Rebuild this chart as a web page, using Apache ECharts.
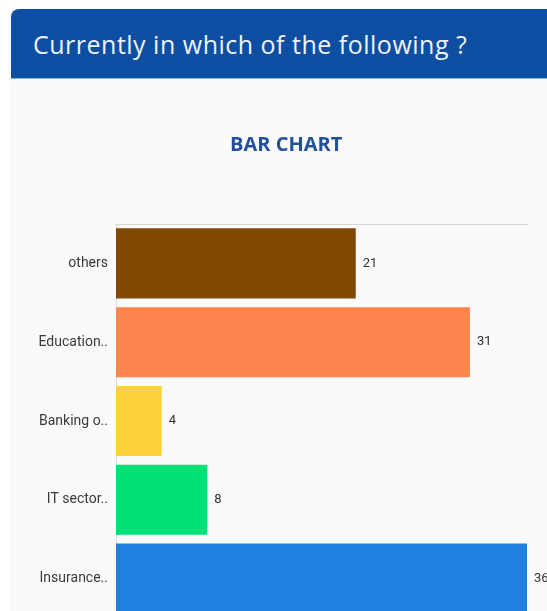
<!DOCTYPE html>
<html>
<head>
<meta charset="utf-8">
<script src="https://cdn.jsdelivr.net/npm/echarts@6/dist/echarts.min.js"></script>
<style>
  html, body { margin: 0; padding: 0; background: #ffffff; overflow: hidden; width: 547px; height: 611px; }
  #card { position: absolute; left: 11px; top: 9px; width: 536px; height: 700px; background: #fafafa; }
  #header {
    position: absolute; left: 11px; top: 9px; width: 536px; height: 70px;
    background: #0b4ea2; border-top-left-radius: 8px;
    border-bottom: 1px solid #8fb2dc;
    color: #eef3fa; font-family: "Open Sans", Lato, sans-serif; font-size: 25px;
    letter-spacing: 0.5px;
    line-height: 70px; padding-left: 22px; box-sizing: border-box; white-space: nowrap;
  }
  #chart { position: absolute; left: 0; top: 0; width: 547px; height: 700px; }
</style>
</head>
<body>
<div id="card"></div>
<div id="chart"></div>
<div id="header">Currently in which of the following ?</div>
<script>
// Survey answers: where respondents currently work
const categories = ['others', 'Education..', 'Banking o..', 'IT sector..', 'Insurance..'];
const counts = [21, 31, 4, 8, 36];
const barColors = ['#804800', '#ff854e', '#fbd339', '#02e177', '#1f80e0'];

const chart = echarts.init(document.getElementById('chart'), null, { renderer: 'canvas' });

chart.setOption({
  animation: false,
  backgroundColor: 'transparent',
  title: {
    text: 'BAR CHART',
    left: 225,
    top: 130,
    textStyle: {
      color: '#22509a',
      fontFamily: '"Open Sans", Lato, sans-serif',
      fontWeight: 'bold',
      fontSize: 20
    }
  },
  grid: {
    left: 116,
    right: 20,
    top: 224,
    height: 394,
    containLabel: false
  },
  xAxis: {
    type: 'value',
    position: 'top',
    min: 0,
    max: 36,
    axisLine: { show: true, lineStyle: { color: '#d6d6d6', width: 1 } },
    axisTick: { show: false },
    axisLabel: { show: false },
    splitLine: { show: false }
  },
  yAxis: {
    type: 'category',
    inverse: true,
    data: categories,
    axisLine: { show: true, lineStyle: { color: '#dcdcdc', width: 1 } },
    axisTick: { show: false },
    axisLabel: {
      margin: 8,
      color: '#3a3a3a',
      fontFamily: 'Roboto, sans-serif',
      fontSize: 14
    }
  },
  series: [{
    type: 'bar',
    barCategoryGap: '11%',
    data: counts.map((v, i) => ({ value: v, itemStyle: { color: barColors[i] } })),
    label: {
      show: true,
      position: 'right',
      distance: 7,
      color: '#333333',
      fontFamily: 'Roboto, sans-serif',
      fontSize: 13
    }
  }]
});
</script>
</body>
</html>
